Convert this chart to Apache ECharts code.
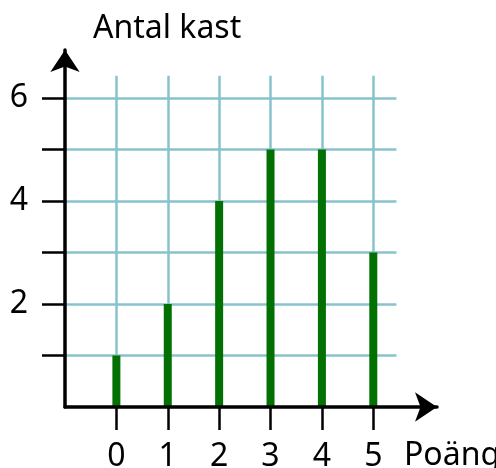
<!DOCTYPE html>
<html>
<head>
<meta charset="utf-8">
<script src="https://cdn.jsdelivr.net/npm/echarts@6/dist/echarts.min.js"></script>
<style>html,body{margin:0;padding:0;background:#fff}#c{width:496px;height:468px}</style>
</head>
<body>
<div id="c"></div>
<script>
var points = [0, 1, 2, 3, 4, 5];
var counts = [1, 2, 4, 5, 5, 3];
var yTicks = [1, 2, 3, 4, 5, 6];
var yLabels = [2, 4, 6];
var xLabels = [0, 1, 2, 3, 4, 5];
var yTitle = 'Antal kast';
var xTitle = 'Poäng';

var FONT = 'Noto Sans';
var gridColor = '#88c2cc';

var gridSegs = [];
yTicks.forEach(function (v) { gridSegs.push({ coords: [[-1, v], [5.45, v]] }); });
points.forEach(function (v) { gridSegs.push({ coords: [[v, 0], [v, 6.43]] }); });

var chart = echarts.init(document.getElementById('c'));
chart.setOption({
  animation: false,
  grid: { left: 65, right: 59, top: 50, bottom: 61, containLabel: false, outerBoundsMode: 'none' },
  graphic: [
    { type: 'text', left: 93, top: 13, style: { text: yTitle, font: '32px "' + FONT + '"', fill: '#000' } },
    { type: 'text', left: 404, top: 440, style: { text: xTitle, font: '32px "' + FONT + '"', fill: '#000' } }
  ],
  xAxis: {
    type: 'value', min: -1, max: 6.24, z: 10,
    splitLine: { show: false },
    axisLine: { show: true, onZero: false, lineStyle: { color: '#000', width: 3.5 }, symbol: ['none', 'arrow'], symbolSize: [22, 22] },
    axisTick: { show: true, customValues: xLabels, length: 23, lineStyle: { color: '#000', width: 2.5 } },
    axisLabel: { show: true, customValues: xLabels, margin: 34, fontFamily: FONT, fontSize: 32, color: '#000' }
  },
  yAxis: {
    type: 'value', min: 0, max: 6.93, z: 10,
    splitLine: { show: false },
    axisLine: { show: true, onZero: false, lineStyle: { color: '#000', width: 3.5 }, symbol: ['none', 'arrow'], symbolSize: [22, 22] },
    axisTick: { show: true, customValues: yTicks, length: 23, lineStyle: { color: '#000', width: 2.5 } },
    axisLabel: { show: true, customValues: yLabels, margin: 37, fontFamily: FONT, fontSize: 32, color: '#000' }
  },
  series: [
    {
      type: 'lines', coordinateSystem: 'cartesian2d', z: 1, silent: true,
      lineStyle: { color: gridColor, width: 2.5, opacity: 1 },
      data: gridSegs
    },
    {
      type: 'bar', z: 5, barWidth: 8,
      itemStyle: { color: '#037003' },
      data: points.map(function (p, i) { return [p, counts[i]]; })
    }
  ]
});
</script>
</body>
</html>
